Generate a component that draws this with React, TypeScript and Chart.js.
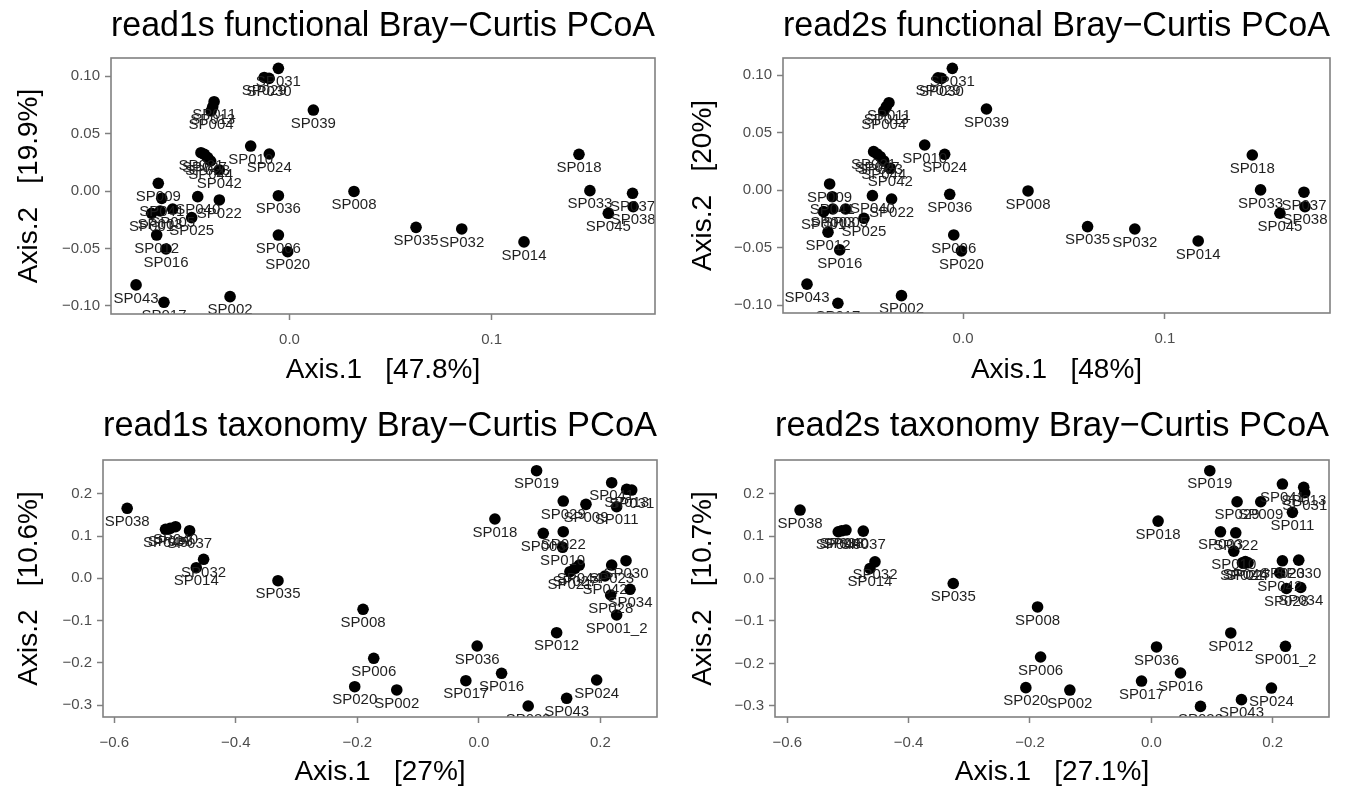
import React, { useEffect, useRef } from 'react';
import { Chart, registerables } from 'chart.js';

Chart.register(...registerables);

const FONT = "'Liberation Sans', Arial, Helvetica, sans-serif";

// ---------- tick values / labels ----------
const funcXTicks = [0, 0.1];
const funcXTickLabels = ['0.0', '0.1'];
const funcYTicks = [-0.1, -0.05, 0, 0.05, 0.1];
const funcYTickLabels = ['\u22120.10', '\u22120.05', '0.00', '0.05', '0.10'];
const taxXTicks = [-0.6, -0.4, -0.2, 0, 0.2];
const taxXTickLabels = ['\u22120.6', '\u22120.4', '\u22120.2', '0.0', '0.2'];
const taxYTicks = [-0.3, -0.2, -0.1, 0, 0.1, 0.2];
const taxYTickLabels = ['\u22120.3', '\u22120.2', '\u22120.1', '0.0', '0.1', '0.2'];

// ---------- panel 1: read1s functional ----------
const f1Labels = ['SP031','SP029','SP030','SP011','SP013','SP004','SP039','SP010','SP024','SP021','SP027','SP023','SP044','SP042','SP009','SP041','SP040','SP022','SP001','SP003','SP005','SP025','SP012','SP016','SP036','SP006','SP020','SP043','SP017','SP002','SP008','SP035','SP032','SP014','SP018','SP033','SP037','SP038','SP045'];
const f1X = [-0.0055,-0.0125,-0.0101,-0.0373,-0.0380,-0.0388,0.0118,-0.0192,-0.0100,-0.0438,-0.0421,-0.0405,-0.0390,-0.0347,-0.0649,-0.0632,-0.0454,-0.0347,-0.0682,-0.0640,-0.0578,-0.0484,-0.0657,-0.0611,-0.0055,-0.0055,-0.0009,-0.0759,-0.0621,-0.0294,0.0319,0.0626,0.0852,0.1160,0.1432,0.1486,0.1697,0.1700,0.1577];
const f1Y = [0.1067,0.0988,0.0980,0.0777,0.0733,0.0696,0.0704,0.0391,0.0322,0.0333,0.0319,0.0290,0.0261,0.0183,0.0067,-0.0064,-0.0049,-0.0078,-0.0194,-0.0174,-0.0157,-0.0232,-0.0383,-0.0504,-0.0041,-0.0383,-0.0528,-0.0817,-0.0968,-0.0919,-0.0004,-0.0316,-0.0330,-0.0443,0.0319,0.0003,-0.0020,-0.0137,-0.0194];

// ---------- panel 2: read2s functional ----------
const f2Labels = f1Labels;
const f2X = [-0.0053,-0.0124,-0.0107,-0.0367,-0.0380,-0.0393,0.0116,-0.0190,-0.0091,-0.0443,-0.0426,-0.0410,-0.0393,-0.0360,-0.0661,-0.0648,-0.0449,-0.0354,-0.0691,-0.0645,-0.0582,-0.0491,-0.0669,-0.0611,-0.0066,-0.0046,-0.0008,-0.0773,-0.0620,-0.0305,0.0322,0.0617,0.0851,0.1165,0.1433,0.1474,0.1689,0.1694,0.1570];
const f2Y = [0.1061,0.0979,0.0974,0.0762,0.0727,0.0690,0.0707,0.0394,0.0313,0.0336,0.0316,0.0292,0.0255,0.0191,0.0055,-0.0056,-0.0047,-0.0076,-0.0186,-0.0163,-0.0163,-0.0244,-0.0365,-0.0519,-0.0035,-0.0389,-0.0528,-0.0817,-0.0983,-0.0917,-0.0006,-0.0316,-0.0337,-0.0441,0.0307,0.0003,-0.0017,-0.0143,-0.0200];

// ---------- panel 3: read1s taxonomy ----------
const t1Labels = ['SP038','SP045','SP033','SP040','SP037','SP032','SP014','SP035','SP008','SP006','SP020','SP002','SP019','SP018','SP041','SP013','SP031','SP029','SP009','SP011','SP003','SP022','SP010','SP021','SP027','SP044','SP042','SP023','SP030','SP034','SP028','SP001_2','SP012','SP036','SP016','SP017','SP024','SP043','SP039'];
const t1X = [-0.5788,-0.5157,-0.5080,-0.4992,-0.4761,-0.4530,-0.4651,-0.3306,-0.1906,-0.1730,-0.2043,-0.1351,0.0950,0.0264,0.2186,0.2433,0.2516,0.1389,0.1763,0.2268,0.1060,0.1389,0.1379,0.1499,0.1582,0.1653,0.2076,0.2186,0.2422,0.2488,0.2170,0.2268,0.1280,-0.0028,0.0374,-0.0214,0.1939,0.1445,0.0812];
const t1Y = [0.1655,0.1158,0.1180,0.1220,0.1125,0.0449,0.0251,-0.0057,-0.0733,-0.1891,-0.2563,-0.2640,0.2544,0.1402,0.2260,0.2104,0.2087,0.1827,0.1749,0.1693,0.1064,0.1102,0.0733,0.0156,0.0236,0.0314,0.0054,0.0314,0.0416,-0.0260,-0.0395,-0.0868,-0.1286,-0.1600,-0.2246,-0.2421,-0.2404,-0.2837,-0.3019];

// ---------- panel 4: read2s taxonomy ----------
const t2Labels = t1Labels;
const t2X = [-0.5790,-0.5160,-0.5104,-0.5033,-0.4748,-0.4555,-0.4638,-0.3265,-0.1875,-0.1825,-0.2068,-0.1343,0.0964,0.0112,0.2161,0.2512,0.2529,0.1414,0.1804,0.2326,0.1140,0.1392,0.1359,0.1502,0.1595,0.1550,0.2117,0.2161,0.2430,0.2463,0.2227,0.2211,0.1310,0.0086,0.0481,-0.0161,0.1980,0.1486,0.0811];
const t2Y = [0.1611,0.1100,0.1123,0.1140,0.1116,0.0392,0.0236,-0.0118,-0.0670,-0.1849,-0.2571,-0.2627,0.2538,0.1351,0.2224,0.2146,0.2019,0.1807,0.1807,0.1557,0.1099,0.1076,0.0644,0.0369,0.0369,0.0400,0.0132,0.0416,0.0432,-0.0212,-0.0236,-0.1597,-0.1283,-0.1613,-0.2226,-0.2415,-0.2580,-0.2854,-0.3012];

type Panel = {
  title: string; xTitle: string; yTitle: string;
  labels: string[]; xs: number[]; ys: number[];
  xTicks: number[]; xTickLabels: string[]; yTicks: number[]; yTickLabels: string[];
  xMin: number; xMax: number; yMin: number; yMax: number;
  left: number; top: number; w: number; h: number;
  yAxisW: number; padRight: number; titlePad: { top: number; bottom: number };
  xAxisH: number; xTitlePad: number; yTitlePad: number;
};

const panels: Panel[] = [
  {
    title: 'read1s functional Bray\u2212Curtis PCoA', xTitle: 'Axis.1   [47.8%]', yTitle: 'Axis.2   [19.9%]',
    labels: f1Labels, xs: f1X, ys: f1Y,
    xTicks: funcXTicks, xTickLabels: funcXTickLabels, yTicks: funcYTicks, yTickLabels: funcYTickLabels,
    xMin: -0.0883, xMax: 0.1808, yMin: -0.1070, yMax: 0.1157,
    left: 0, top: 0, w: 676, h: 394,
    yAxisW: 111, padRight: 21, titlePad: { top: 4.9, bottom: 11.1 }, xAxisH: 80, xTitlePad: 10, yTitlePad: 15,
  },
  {
    title: 'read2s functional Bray\u2212Curtis PCoA', xTitle: 'Axis.1   [48%]', yTitle: 'Axis.2   [20%]',
    labels: f2Labels, xs: f2X, ys: f2Y,
    xTicks: funcXTicks, xTickLabels: funcXTickLabels, yTicks: funcYTicks, yTickLabels: funcYTickLabels,
    xMin: -0.0892, xMax: 0.1818, yMin: -0.1068, yMax: 0.1151,
    left: 676, top: 0, w: 677, h: 394,
    yAxisW: 107, padRight: 23, titlePad: { top: 4.9, bottom: 11.1 }, xAxisH: 81, xTitlePad: 10, yTitlePad: 13,
  },
  {
    title: 'read1s taxonomy Bray\u2212Curtis PCoA', xTitle: 'Axis.1   [27%]', yTitle: 'Axis.2   [10.6%]',
    labels: t1Labels, xs: t1X, ys: t1Y,
    xTicks: taxXTicks, xTickLabels: taxXTickLabels, yTicks: taxYTicks, yTickLabels: taxYTickLabels,
    xMin: -0.6186, xMax: 0.2932, yMin: -0.3279, yMax: 0.2797,
    left: 0, top: 394, w: 676, h: 394,
    yAxisW: 103, padRight: 19, titlePad: { top: 10.9, bottom: 13.1 }, xAxisH: 71, xTitlePad: 2, yTitlePad: 15,
  },
  {
    title: 'read2s taxonomy Bray\u2212Curtis PCoA', xTitle: 'Axis.1   [27.1%]', yTitle: 'Axis.2   [10.7%]',
    labels: t2Labels, xs: t2X, ys: t2Y,
    xTicks: taxXTicks, xTickLabels: taxXTickLabels, yTicks: taxYTicks, yTickLabels: taxYTickLabels,
    xMin: -0.6203, xMax: 0.2929, yMin: -0.3262, yMax: 0.2790,
    left: 676, top: 394, w: 677, h: 394,
    yAxisW: 99, padRight: 24, titlePad: { top: 10.9, bottom: 13.1 }, xAxisH: 71, xTitlePad: 2, yTitlePad: 13,
  },
];

const labelAndBorderPlugin = {
  id: 'labelAndBorder',
  afterDatasetsDraw(chart: any, _args: any, opts: any) {
    const { ctx, chartArea } = chart;
    const { left, top, right, bottom } = chartArea;
    const meta = chart.getDatasetMeta(0);
    const labels: string[] = opts.labels || [];
    ctx.save();
    ctx.beginPath();
    ctx.rect(left, top, right - left, bottom - top);
    ctx.clip();
    ctx.font = `15px ${FONT}`;
    ctx.fillStyle = '#1f1f1f';
    ctx.textAlign = 'center';
    ctx.textBaseline = 'middle';
    meta.data.forEach((el: any, i: number) => {
      ctx.fillText(labels[i], el.x, el.y + 13.5);
    });
    ctx.restore();
    ctx.save();
    ctx.strokeStyle = '#808080';
    ctx.lineWidth = 1.6;
    ctx.strokeRect(left, top, right - left, bottom - top);
    ctx.restore();
  },
};

function PanelChart({ p }: { p: Panel }) {
  const ref = useRef<HTMLCanvasElement | null>(null);
  useEffect(() => {
    if (!ref.current) return;
    const data = p.xs.map((x, i) => ({ x, y: p.ys[i] }));
    const chart = new Chart(ref.current, {
      type: 'scatter',
      data: {
        datasets: [{
          data,
          pointRadius: 5.8,
          pointHoverRadius: 5.8,
          pointBackgroundColor: '#000000',
          pointBorderColor: '#000000',
          pointBorderWidth: 0,
        }],
      },
      plugins: [labelAndBorderPlugin],
      options: {
        animation: false,
        responsive: false,
        events: [],
        layout: { padding: { left: 0, right: p.padRight, top: 0, bottom: 0 } },
        plugins: {
          legend: { display: false },
          tooltip: { enabled: false },
          title: {
            display: true,
            text: p.title,
            fullSize: false,
            align: 'center',
            color: '#000000',
            font: { family: FONT, size: 35, weight: 'normal', lineHeight: 1.2 },
            padding: p.titlePad,
          },
          labelAndBorder: { labels: p.labels },
        } as any,
        scales: {
          x: {
            type: 'linear',
            min: p.xMin,
            max: p.xMax,
            afterBuildTicks: (s: any) => { s.ticks = p.xTicks.map((v) => ({ value: v })); },
            afterFit: (s: any) => { s.height = p.xAxisH; },
            ticks: {
              autoSkip: false,
              maxRotation: 0,
              padding: 10.5,
              color: '#4d4d4d',
              font: { family: FONT, size: 15 },
              callback: (_v: any, i: number) => p.xTickLabels[i],
            },
            grid: { drawOnChartArea: false, drawTicks: true, tickLength: 6, tickColor: '#808080', tickWidth: 1.5, color: '#808080' },
            border: { display: false },
            title: {
              display: true, text: p.xTitle, color: '#000000',
              font: { family: FONT, size: 28, lineHeight: 1 },
              padding: { top: 0, bottom: p.xTitlePad },
            },
          },
          y: {
            type: 'linear',
            min: p.yMin,
            max: p.yMax,
            afterBuildTicks: (s: any) => { s.ticks = p.yTicks.map((v) => ({ value: v })); },
            afterFit: (s: any) => { s.width = p.yAxisW; },
            ticks: {
              autoSkip: false,
              padding: 5,
              color: '#4d4d4d',
              font: { family: FONT, size: 15 },
              callback: (_v: any, i: number) => p.yTickLabels[i],
            },
            grid: { drawOnChartArea: false, drawTicks: true, tickLength: 6, tickColor: '#808080', tickWidth: 1.5, color: '#808080' },
            border: { display: false },
            title: {
              display: true, text: p.yTitle, color: '#000000',
              font: { family: FONT, size: 28, lineHeight: 1 },
              padding: { top: p.yTitlePad, bottom: 0 },
            },
          },
        } as any,
      },
    } as any);
    return () => chart.destroy();
  }, [p]);
  return (
    <canvas
      ref={ref}
      width={p.w}
      height={p.h}
      style={{ position: 'absolute', left: p.left, top: p.top, width: p.w, height: p.h, display: 'block' }}
    />
  );
}

export default function App() {
  return (
    <div style={{ position: 'absolute', left: 0, top: 0, width: 1353, height: 788, background: '#ffffff', overflow: 'hidden' }}>
      {panels.map((p, i) => <PanelChart key={i} p={p} />)}
    </div>
  );
}
